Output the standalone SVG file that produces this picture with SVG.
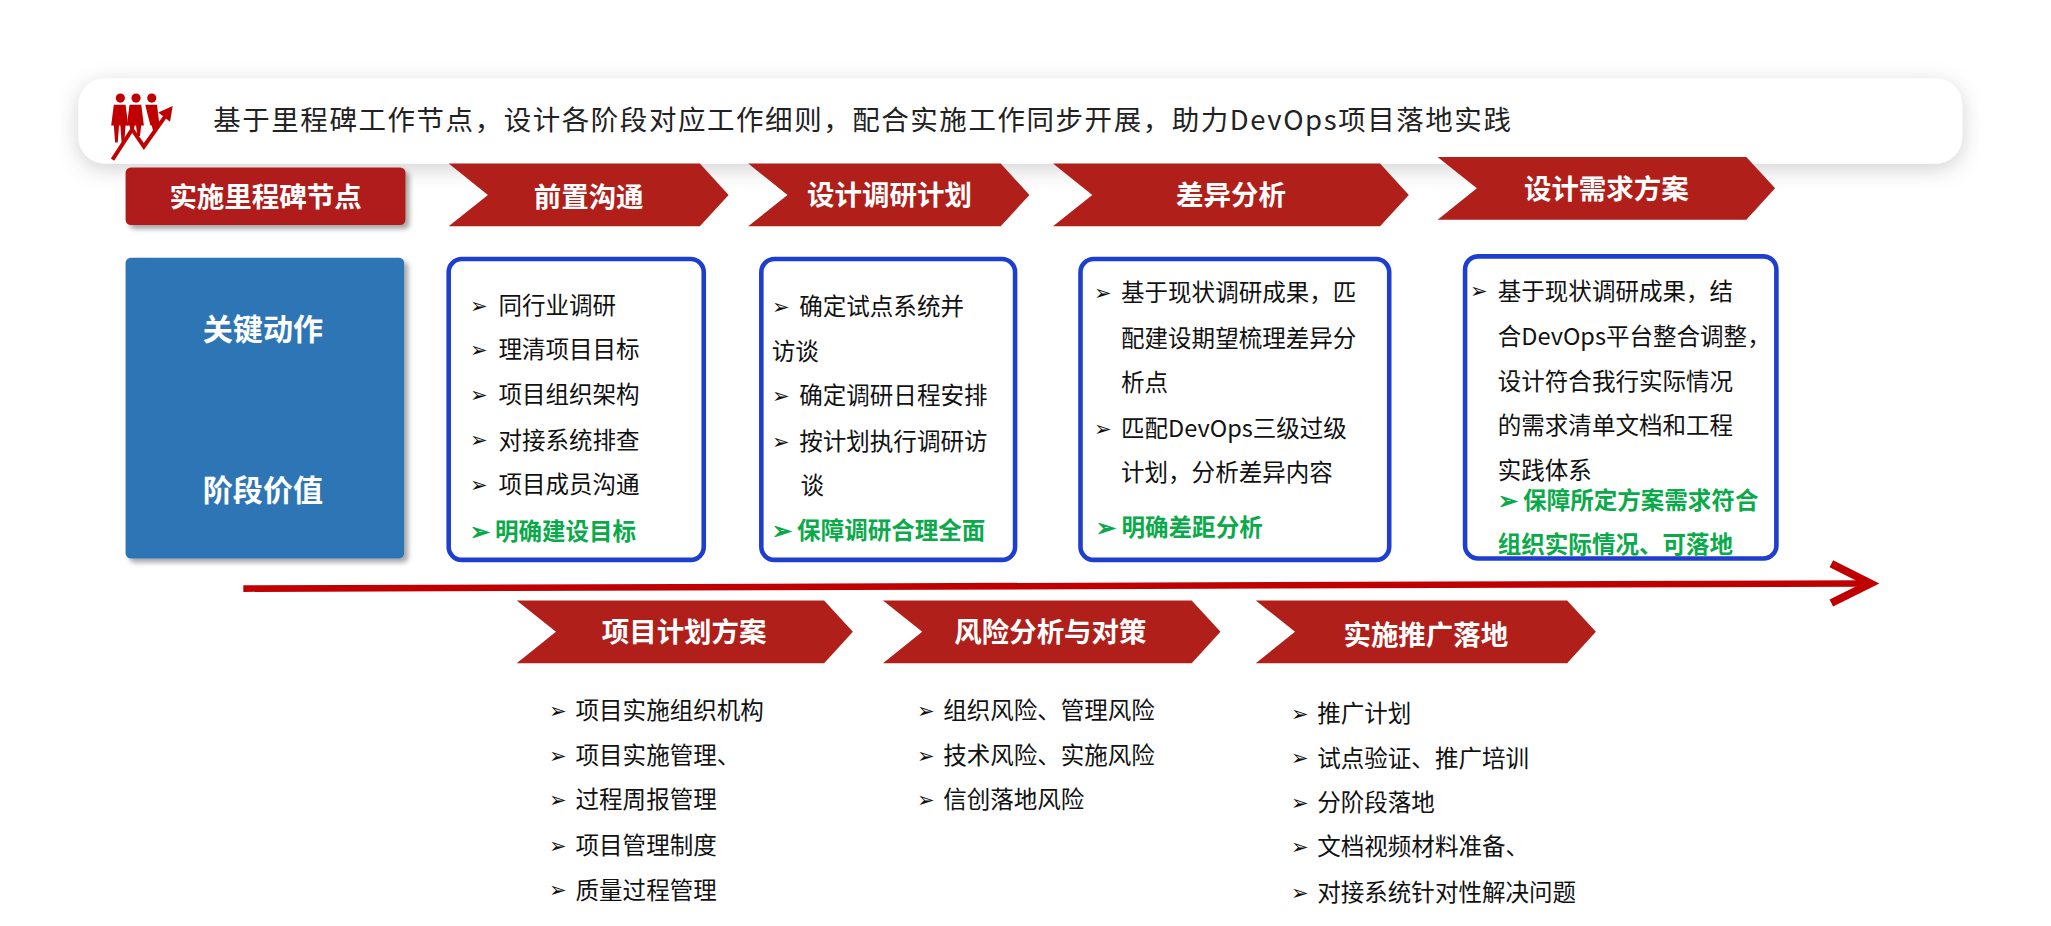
<svg xmlns="http://www.w3.org/2000/svg" width="2051" height="926" viewBox="0 0 2051 926">
<defs>
<filter id="sh" x="-10%" y="-50%" width="120%" height="200%"><feDropShadow dx="0" dy="4" stdDeviation="8" flood-color="#000" flood-opacity="0.18"/></filter>
<filter id="sh2" x="-10%" y="-20%" width="130%" height="140%"><feDropShadow dx="3" dy="3" stdDeviation="2" flood-color="#000" flood-opacity="0.35"/></filter>
</defs>
<style>
text{font-family:"Noto Sans CJK SC","Liberation Sans",sans-serif;}
.hd{font-size:21px;fill:#222;}
.ct{font-size:21px;font-weight:bold;fill:#fff;text-anchor:middle;}
.ch{fill:#B01F1A;}
.bx{fill:#fff;stroke:#1E3ED0;stroke-width:3.5;}
.li{font-size:18px;fill:#111;}
.gr{font-size:18px;fill:#0AAA4A;font-weight:bold;}
.mk{font-size:16px;fill:#111;}
.bl{font-size:23px;font-weight:bold;fill:#fff;text-anchor:middle;}
</style>
<rect width="2051" height="926" fill="#fff"/>
<g transform="scale(1.3081)">
<g id="header">
<rect x="60" y="60" width="1440" height="65" rx="20" fill="#fff" filter="url(#sh)"/>
<g fill="#C00000">
<circle cx="92" cy="75" r="3.5"/><circle cx="104" cy="75" r="3.5"/><circle cx="116" cy="75" r="3.5"/>
<path d="M87,80h9l2,16h-2l-1,13h-2l-1-13h-1l-1,13h-2l-1-13h-2z"/>
<path d="M99,80h9l2,16h-2l-1,8h-2l-1-8h-1l-1,4h-2l-1-4h-2z"/>
<path d="M111,80h9l2,16h-2l-1,4h-2l-1-4h-1z"/>
</g>
<path d="M86,122 L101,99 L110,112 L127,88" stroke="#C00000" stroke-width="3" fill="none"/>
<path d="M121,86 L132,81 L130,93 Z" fill="#C00000"/>
<text class="hd" x="163" y="99" textLength="992">基于里程碑工作节点，设计各阶段对应工作细则，配合实施工作同步开展，助力DevOps项目落地实践</text>
</g>
<g id="milestone">
<rect x="96" y="128" width="214" height="44" rx="4" class="ch" filter="url(#sh2)"/>
<text class="ct" x="203" y="158">实施里程碑节点</text>
</g>
<g id="c1"><path class="ch" d="M343,125H535L557,149L535,173H343L373,149Z"/><text class="ct" x="450" y="158">前置沟通</text></g>
<g id="c2"><path class="ch" d="M572,125H765L787,149L765,173H572L602,149Z"/><text class="ct" x="680" y="157">设计调研计划</text></g>
<g id="c3"><path class="ch" d="M805,125H1055L1077,149L1055,173H805L835,149Z"/><text class="ct" x="941" y="157">差异分析</text></g>
<g id="c4"><path class="ch" d="M1099,120H1335L1357,144L1335,168H1099L1129,144Z"/><text class="ct" x="1228" y="152">设计需求方案</text></g>
<g id="left">
<rect x="96" y="197" width="213" height="230" rx="4" fill="#2E74B5" filter="url(#sh2)"/>
<text class="bl" x="201" y="260">关键动作</text>
<text class="bl" x="201" y="383">阶段价值</text>
</g>
<g id="b1">
<rect class="bx" x="343" y="198" width="195" height="230" rx="10"/>
<g class="mk"><text x="359" y="239">➢</text><text x="359" y="273">➢</text><text x="359" y="307">➢</text><text x="359" y="342">➢</text><text x="359" y="376">➢</text></g>
<text class="li" x="381" y="240">同行业调研</text><text class="li" x="381" y="274">理清项目目标</text><text class="li" x="381" y="308">项目组织架构</text><text class="li" x="381" y="343">对接系统排查</text><text class="li" x="381" y="377">项目成员沟通</text>
<text class="gr" x="359" y="413">➢ 明确建设目标</text>
</g>
<g id="b2">
<rect class="bx" x="582" y="198" width="194" height="230" rx="10"/>
<g class="mk"><text x="590" y="240">➢</text><text x="590" y="308">➢</text><text x="590" y="343">➢</text></g>
<text class="li" x="611" y="241">确定试点系统并</text><text class="li" x="590" y="275">访谈</text><text class="li" x="611" y="309">确定调研日程安排</text><text class="li" x="611" y="344">按计划执行调研访</text><text class="li" x="612" y="378">谈</text>
<text class="gr" x="590" y="412">➢ 保障调研合理全面</text>
</g>
<g id="b3">
<rect class="bx" x="826" y="198" width="236" height="230" rx="10"/>
<g class="mk"><text x="836" y="229">➢</text><text x="836" y="333">➢</text></g>
<text class="li" x="857" y="230">基于现状调研成果，匹</text><text class="li" x="857" y="265">配建设期望梳理差异分</text><text class="li" x="857" y="299">析点</text><text class="li" x="857" y="334">匹配DevOps三级过级</text><text class="li" x="857" y="368">计划，分析差异内容</text>
<text class="gr" x="838" y="410">➢ 明确差距分析</text>
</g>
<g id="b4">
<rect class="bx" x="1120" y="196" width="238" height="231" rx="10"/>
<text class="mk" x="1124" y="228">➢</text>
<text class="li" x="1145" y="229">基于现状调研成果，结</text><text class="li" x="1145" y="264">合DevOps平台整合调整，</text><text class="li" x="1145" y="298">设计符合我行实际情况</text><text class="li" x="1145" y="332">的需求清单文档和工程</text><text class="li" x="1145" y="366">实践体系</text>
<text class="gr" x="1145" y="389">➢ 保障所定方案需求符合</text><text class="gr" x="1145" y="423">组织实际情况、可落地</text>
</g>
<g id="connectors">
<path d="M186,450 L1424,446" stroke="#C00000" stroke-width="5" fill="none"/>
<path d="M1400,431 L1430,446 L1400,461" stroke="#C00000" stroke-width="6" fill="none"/>
</g>
<g id="c5"><path class="ch" d="M395,459H630L652,483L630,507H395L425,483Z"/><text class="ct" x="523" y="491">项目计划方案</text></g>
<g id="c6"><path class="ch" d="M675,459H911L933,483L911,507H675L705,483Z"/><text class="ct" x="803" y="491">风险分析与对策</text></g>
<g id="c7"><path class="ch" d="M960,459H1198L1220,483L1198,507H960L990,483Z"/><text class="ct" x="1090" y="493">实施推广落地</text></g>
<g id="l5">
<g class="mk"><text x="420" y="549">➢</text><text x="420" y="583">➢</text><text x="420" y="617">➢</text><text x="420" y="652">➢</text><text x="420" y="686">➢</text></g>
<text class="li" x="440" y="550">项目实施组织机构</text><text class="li" x="440" y="584">项目实施管理、</text><text class="li" x="440" y="618">过程周报管理</text><text class="li" x="440" y="653">项目管理制度</text><text class="li" x="440" y="687">质量过程管理</text>
</g>
<g id="l6">
<g class="mk"><text x="701" y="549">➢</text><text x="701" y="583">➢</text><text x="701" y="617">➢</text></g>
<text class="li" x="721" y="550">组织风险、管理风险</text><text class="li" x="721" y="584">技术风险、实施风险</text><text class="li" x="721" y="618">信创落地风险</text>
</g>
<g id="l7">
<g class="mk"><text x="987" y="551">➢</text><text x="987" y="585">➢</text><text x="987" y="619">➢</text><text x="987" y="653">➢</text><text x="987" y="688">➢</text></g>
<text class="li" x="1007" y="552">推广计划</text><text class="li" x="1007" y="586">试点验证、推广培训</text><text class="li" x="1007" y="620">分阶段落地</text><text class="li" x="1007" y="654">文档视频材料准备、</text><text class="li" x="1007" y="689">对接系统针对性解决问题</text>
</g>
</g>
</svg>
